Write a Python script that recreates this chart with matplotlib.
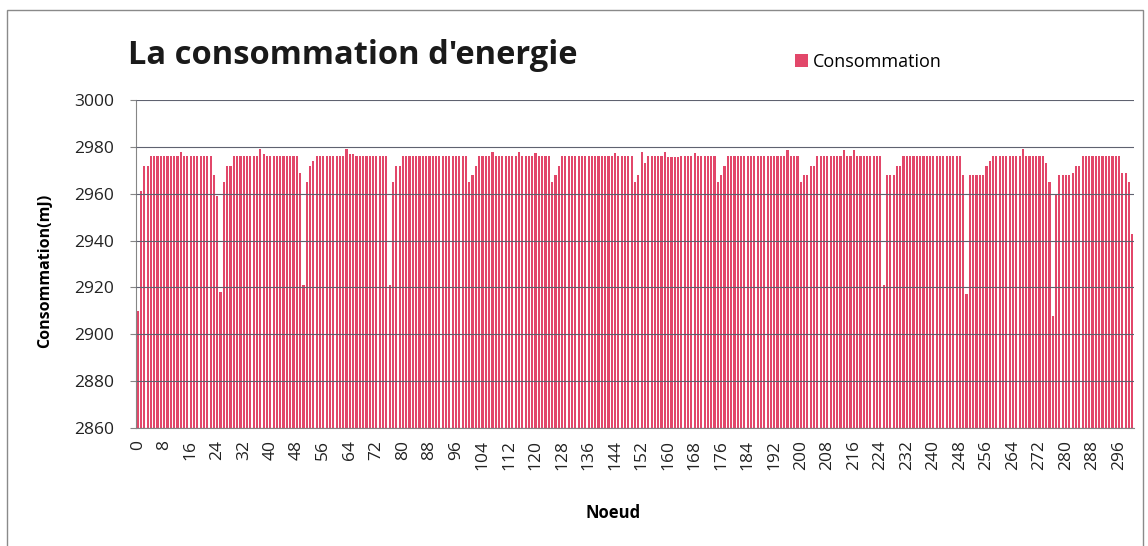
import matplotlib.pyplot as plt
import numpy as np
from matplotlib.patches import Rectangle

# energy consumed per node (mJ), nodes 0..300
consommation = [
    2910, 2961, 2972, 2972, 2976, 2976, 2976, 2976, 2976, 2976,
    2976, 2976, 2976, 2978, 2976, 2976, 2976, 2976, 2976, 2976,
    2976, 2976, 2976, 2968, 2959, 2918, 2965, 2972, 2972, 2976,
    2976, 2976, 2976, 2976, 2976, 2976, 2976, 2979, 2977, 2976,
    2976, 2976, 2976, 2976, 2976, 2976, 2976, 2976, 2976, 2969,
    2921, 2965, 2972, 2974, 2976, 2976, 2976, 2976, 2976, 2976,
    2976, 2976, 2976, 2979, 2977, 2977, 2976, 2976, 2976, 2976,
    2976, 2976, 2976, 2976, 2976, 2976, 2921, 2965, 2972, 2972,
    2976, 2976, 2976, 2976, 2976, 2976, 2976, 2976, 2976, 2976,
    2976, 2976, 2976, 2976, 2976, 2976, 2976, 2976, 2976, 2976,
    2965, 2968, 2972, 2976, 2976, 2976, 2976, 2978, 2976, 2976,
    2976, 2976, 2976, 2976, 2976, 2978, 2976, 2976, 2976, 2976,
    2977.5, 2976, 2976, 2976, 2976, 2965, 2968, 2972, 2976, 2976,
    2976, 2976, 2976, 2976, 2976, 2976, 2976, 2976, 2976, 2976,
    2976, 2976, 2976, 2976, 2977.5, 2976, 2976, 2976, 2976, 2976,
    2965, 2968, 2978, 2973, 2976, 2976, 2976, 2976, 2976, 2978,
    2975.5, 2975.5, 2975.5, 2975.5, 2976, 2976, 2976, 2976, 2977.5, 2976,
    2976, 2976, 2976, 2976, 2976, 2965, 2968, 2972, 2976, 2976,
    2976, 2976, 2976, 2976, 2976, 2976, 2976, 2976, 2976, 2976,
    2976, 2976, 2976, 2976, 2976, 2976, 2978.5, 2976, 2976, 2976,
    2965, 2968, 2968, 2972, 2972, 2976, 2976, 2976, 2976, 2976,
    2976, 2976, 2976, 2978.5, 2976, 2976, 2978.5, 2976, 2976, 2976,
    2976, 2976, 2976, 2976, 2976, 2921, 2968, 2968, 2968, 2972,
    2972, 2976, 2976, 2976, 2976, 2976, 2976, 2976, 2976, 2976,
    2976, 2976, 2976, 2976, 2976, 2976, 2976, 2976, 2976, 2968,
    2917, 2968, 2968, 2968, 2968, 2968, 2972, 2974, 2976, 2976,
    2976, 2976, 2976, 2976, 2976, 2976, 2976, 2979, 2976, 2976,
    2976, 2976, 2976, 2976, 2973, 2965, 2908, 2960, 2968, 2968,
    2968, 2968, 2969, 2972, 2972, 2976, 2976, 2976, 2976, 2976,
    2976, 2976, 2976, 2976, 2976, 2976, 2976, 2969, 2969, 2965,
    2943,
]
noeuds = np.arange(len(consommation))
tick_noeuds = noeuds[::8]
y_ticks = [2860, 2880, 2900, 2920, 2940, 2960, 2980, 3000]

plt.rcParams['font.family'] = ['Open Sans', 'DejaVu Sans']

fig = plt.figure(figsize=(11.48, 5.46), dpi=100)
ax = fig.add_axes([136 / 1148, 1 - 428 / 546, 998 / 1148, 328 / 546])

bar_color = '#E2476A'
ax.bar(noeuds, consommation, width=0.65, color=bar_color, label='Consommation', zorder=2)

ax.set_xlim(-0.5, len(consommation) - 0.5)
ax.set_ylim(2860, 3000)
ax.set_yticks(y_ticks)
ax.set_xticks(tick_noeuds)
ax.set_xticklabels([str(n) for n in tick_noeuds], rotation=90)
ax.tick_params(axis='y', labelsize=12.5, length=4, color='#868686', pad=12,
               labelcolor='#222222')
ax.tick_params(axis='x', labelsize=12.5, length=0, pad=9, labelcolor='#222222')

# horizontal grid drawn over the thin bars
ax.yaxis.grid(True, color='#5f6270', linewidth=0.8, zorder=3)
ax.set_axisbelow(False)
for side in ['top', 'right']:
    ax.spines[side].set_visible(False)
for side in ['left', 'bottom']:
    ax.spines[side].set_color('#868686')
    ax.spines[side].set_linewidth(0.8)

ax.set_ylabel('Consommation(mJ)', fontsize=11.5, fontweight='bold')
ax.yaxis.set_label_coords((53 - 136) / 998, 0.48)
ax.set_xlabel('Noeud', fontsize=12, fontweight='bold')
ax.xaxis.set_label_coords((613 - 136) / 998, (428 - 504) / 328)

fig.text(128 / 1148, 1 - 55 / 546, "La consommation d'energie", fontsize=23.5,
         fontweight='bold', color='#1a1a1a', ha='left', va='center')

ax.legend(loc='center left', bbox_to_anchor=(795 / 1148, 1 - 62 / 546),
          bbox_transform=fig.transFigure, frameon=False, fontsize=13,
          handlelength=0.7, handleheight=0.7, handletextpad=0.3,
          borderpad=0, borderaxespad=0)

# chart border
fig.patches.append(Rectangle((7 / 1148, -0.05), 1136 / 1148, 1.05 - 10 / 546,
                             transform=fig.transFigure, fill=False,
                             edgecolor='#8a8a8a', linewidth=1))

fig.savefig('out.png', dpi=100)
